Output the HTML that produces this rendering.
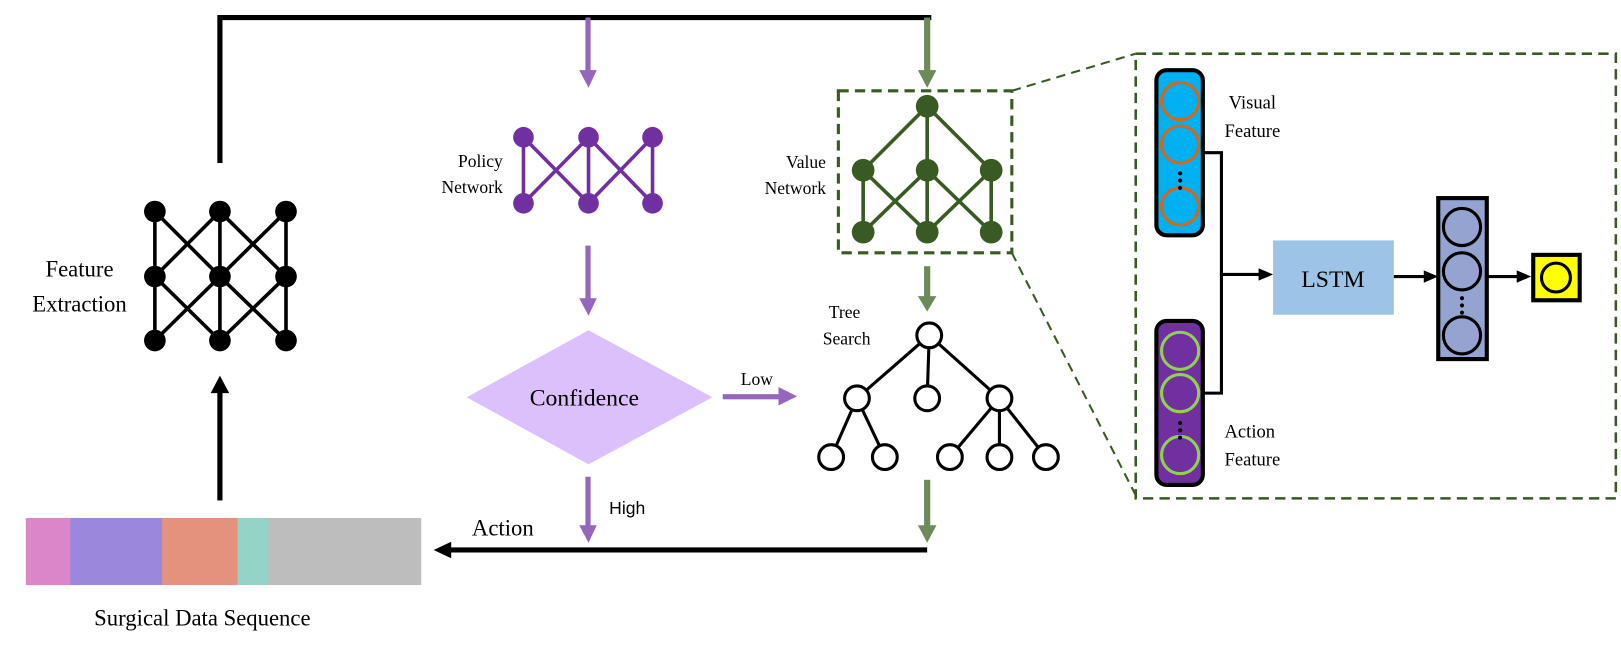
<!DOCTYPE html>
<html><head><meta charset="utf-8"><style>
html,body{margin:0;padding:0;background:#fff;}
svg{display:block;}
text{font-family:"Liberation Serif",serif;fill:#000;}
</style></head><body>
<svg width="1621" height="648" viewBox="0 0 1570 628" preserveAspectRatio="none" xmlns="http://www.w3.org/2000/svg">
<!-- top loop -->
<polyline points="213,158 213,17 902,17" fill="none" stroke="#000" stroke-width="5"/>
<!-- purple arrows -->
<g fill="#9467bd" stroke="none">
<rect x="567" y="17" width="5" height="52"/><polygon points="561,68 578,68 570,85"/>
<rect x="567" y="238" width="5" height="52"/><polygon points="561,289 578,289 570,306"/>
<rect x="567" y="462" width="5" height="48"/><polygon points="561,509 578,509 570,526"/>
<rect x="700" y="382" width="55" height="5"/><polygon points="754,375 754,393 772,384"/>
</g>
<!-- green arrows -->
<g fill="#6e8a5a">
<rect x="895" y="17" width="6" height="52"/><polygon points="889,68 907,68 898,85"/>
<rect x="895" y="258" width="6" height="30"/><polygon points="889,287 907,287 898,302"/>
<rect x="895" y="465" width="6" height="45"/><polygon points="889,509 907,509 898,526"/>
</g>
<!-- bottom line -->
<line x1="898" y1="533" x2="435" y2="533" stroke="#000" stroke-width="5"/>
<polygon points="437,525 437,541 420,533" fill="#000"/>
<text x="487" y="519" font-size="22" text-anchor="middle">Action</text>
<text x="590" y="498" font-size="17" style="font-family:'Liberation Sans',sans-serif">High</text>
<text x="733" y="373" font-size="17" text-anchor="middle">Low</text>
<!-- policy network -->
<g stroke="#7030a0" stroke-width="3.5">
<line x1="507" y1="133" x2="507" y2="197"/><line x1="570" y1="133" x2="570" y2="197"/><line x1="632" y1="133" x2="632" y2="197"/>
<line x1="507" y1="133" x2="570" y2="197"/><line x1="570" y1="133" x2="507" y2="197"/>
<line x1="570" y1="133" x2="632" y2="197"/><line x1="632" y1="133" x2="570" y2="197"/>
</g>
<g fill="#7030a0">
<circle cx="507" cy="133" r="10"/><circle cx="570" cy="133" r="10"/><circle cx="632" cy="133" r="10"/>
<circle cx="507" cy="197" r="10"/><circle cx="570" cy="197" r="10"/><circle cx="632" cy="197" r="10"/>
</g>
<text x="487" y="162" font-size="17" text-anchor="end">Policy</text>
<text x="487" y="187" font-size="17" text-anchor="end">Network</text>
<!-- diamond -->
<polygon points="452,385 570,320 690,385 570,450" fill="#dcc0fc"/>
<text x="566" y="393" font-size="23" text-anchor="middle">Confidence</text>
<!-- value network -->
<rect x="812" y="88" width="168" height="157" fill="none" stroke="#3a5a24" stroke-width="3" stroke-dasharray="10,6"/>
<g stroke="#3a5a24" stroke-width="3.5">
<line x1="898" y1="103" x2="836" y2="165"/><line x1="898" y1="103" x2="898" y2="165"/><line x1="898" y1="103" x2="960" y2="165"/>
<line x1="836" y1="165" x2="836" y2="225"/><line x1="898" y1="165" x2="898" y2="225"/><line x1="960" y1="165" x2="960" y2="225"/>
<line x1="836" y1="165" x2="898" y2="225"/><line x1="898" y1="165" x2="836" y2="225"/>
<line x1="898" y1="165" x2="960" y2="225"/><line x1="960" y1="165" x2="898" y2="225"/>
</g>
<g fill="#3a5a24">
<circle cx="898" cy="103" r="11"/>
<circle cx="836" cy="165" r="11"/><circle cx="898" cy="165" r="11"/><circle cx="960" cy="165" r="11"/>
<circle cx="836" cy="225" r="11"/><circle cx="898" cy="225" r="11"/><circle cx="960" cy="225" r="11"/>
</g>
<text x="800" y="163" font-size="17" text-anchor="end">Value</text>
<text x="800" y="188" font-size="17" text-anchor="end">Network</text>
<!-- tree search -->
<g stroke="#000" stroke-width="3" fill="#fff">
<line x1="900" y1="325" x2="830" y2="386"/><line x1="900" y1="325" x2="898" y2="386"/><line x1="900" y1="325" x2="968" y2="386"/>
<line x1="830" y1="386" x2="805" y2="443"/><line x1="830" y1="386" x2="857" y2="443"/>
<line x1="968" y1="386" x2="920" y2="443"/><line x1="968" y1="386" x2="968" y2="443"/><line x1="968" y1="386" x2="1013" y2="443"/>
<circle cx="900" cy="325" r="12"/>
<circle cx="830" cy="386" r="12"/><circle cx="898" cy="386" r="12"/><circle cx="968" cy="386" r="12"/>
<circle cx="805" cy="443" r="12"/><circle cx="857" cy="443" r="12"/><circle cx="920" cy="443" r="12"/><circle cx="968" cy="443" r="12"/><circle cx="1013" cy="443" r="12"/>
</g>
<text x="818" y="308" font-size="17" text-anchor="middle">Tree</text>
<text x="820" y="334" font-size="17" text-anchor="middle">Search</text>
<!-- zoom lines -->
<line x1="980" y1="88" x2="1100" y2="52" stroke="#3a5a24" stroke-width="2" stroke-dasharray="9,6"/>
<line x1="980" y1="245" x2="1100" y2="480" stroke="#3a5a24" stroke-width="2" stroke-dasharray="9,6"/>
<rect x="1100" y="52" width="465" height="431" fill="none" stroke="#3a5a24" stroke-width="2.5" stroke-dasharray="10,6"/>
<!-- visual feature column -->
<rect x="1120" y="68" width="45" height="160" rx="10" fill="#00b0f0" stroke="#000" stroke-width="4"/>
<g fill="none" stroke="#d06820" stroke-width="3">
<circle cx="1143" cy="98" r="18"/><circle cx="1143" cy="140" r="18"/><circle cx="1143" cy="200" r="18"/>
</g>
<g fill="#000"><circle cx="1143" cy="168" r="2"/><circle cx="1143" cy="175" r="2"/><circle cx="1143" cy="182" r="2"/></g>
<!-- action feature column -->
<rect x="1120" y="311" width="45" height="159" rx="10" fill="#7030a0" stroke="#000" stroke-width="4"/>
<g fill="none" stroke="#92d050" stroke-width="3">
<circle cx="1143" cy="340" r="18"/><circle cx="1143" cy="381" r="18"/><circle cx="1143" cy="441" r="18"/>
</g>
<g fill="#000"><circle cx="1143" cy="410" r="2"/><circle cx="1143" cy="417" r="2"/><circle cx="1143" cy="424" r="2"/></g>
<polyline points="1165,148 1183,148 1183,381 1165,381" fill="none" stroke="#000" stroke-width="3"/>
<line x1="1183" y1="266" x2="1220" y2="266" stroke="#000" stroke-width="3"/>
<polygon points="1219,260 1219,272 1233,266" fill="#000"/>
<text x="1190" y="105" font-size="18">Visual</text>
<text x="1186" y="133" font-size="18">Feature</text>
<text x="1186" y="424" font-size="18">Action</text>
<text x="1186" y="451" font-size="18">Feature</text>
<!-- LSTM -->
<rect x="1233" y="233" width="117" height="72" fill="#9dc3e6"/>
<text x="1291" y="278" font-size="23" text-anchor="middle">LSTM</text>
<line x1="1350" y1="268" x2="1380" y2="268" stroke="#000" stroke-width="3"/>
<polygon points="1379,262 1379,274 1393,268" fill="#000"/>
<!-- output column -->
<rect x="1393" y="192" width="47" height="156" fill="#95a3d0" stroke="#000" stroke-width="4"/>
<g fill="none" stroke="#000" stroke-width="3">
<circle cx="1416" cy="220" r="18"/><circle cx="1416" cy="263" r="18"/><circle cx="1416" cy="325" r="18"/>
</g>
<g fill="#000"><circle cx="1416" cy="289" r="2"/><circle cx="1416" cy="296" r="2"/><circle cx="1416" cy="303" r="2"/></g>
<line x1="1440" y1="268" x2="1470" y2="268" stroke="#000" stroke-width="3"/>
<polygon points="1469,262 1469,274 1483,268" fill="#000"/>
<rect x="1485" y="247" width="45" height="44" fill="#ffff00" stroke="#000" stroke-width="4"/>
<circle cx="1507" cy="269" r="14" fill="none" stroke="#000" stroke-width="3"/>
<!-- feature extraction -->
<g stroke="#000" stroke-width="3.5">
<line x1="150" y1="205" x2="150" y2="330"/><line x1="213" y1="205" x2="213" y2="330"/><line x1="277" y1="205" x2="277" y2="330"/>
<line x1="150" y1="205" x2="213" y2="268"/><line x1="213" y1="205" x2="150" y2="268"/>
<line x1="213" y1="205" x2="277" y2="268"/><line x1="277" y1="205" x2="213" y2="268"/>
<line x1="150" y1="268" x2="213" y2="330"/><line x1="213" y1="268" x2="150" y2="330"/>
<line x1="213" y1="268" x2="277" y2="330"/><line x1="277" y1="268" x2="213" y2="330"/>
</g>
<g fill="#000">
<circle cx="150" cy="205" r="10.5"/><circle cx="213" cy="205" r="10.5"/><circle cx="277" cy="205" r="10.5"/>
<circle cx="150" cy="268" r="10.5"/><circle cx="213" cy="268" r="10.5"/><circle cx="277" cy="268" r="10.5"/>
<circle cx="150" cy="330" r="10.5"/><circle cx="213" cy="330" r="10.5"/><circle cx="277" cy="330" r="10.5"/>
</g>
<text x="77" y="268" font-size="22" text-anchor="middle">Feature</text>
<text x="77" y="302" font-size="22" text-anchor="middle">Extraction</text>
<!-- up arrow -->
<rect x="210.5" y="380" width="5" height="105" fill="#000"/>
<polygon points="204,381 222,381 213,364" fill="#000"/>
<!-- sequence -->
<rect x="25" y="502" width="44" height="65" fill="#da86c8"/>
<rect x="68" y="502" width="90" height="65" fill="#9b88dc"/>
<rect x="157" y="502" width="74" height="65" fill="#e4927e"/>
<rect x="230" y="502" width="31" height="65" fill="#93d3c8"/>
<rect x="260" y="502" width="148" height="65" fill="#bdbdbd"/>
<text x="196" y="606" font-size="22" text-anchor="middle">Surgical Data Sequence</text>
</svg>
</body></html>
